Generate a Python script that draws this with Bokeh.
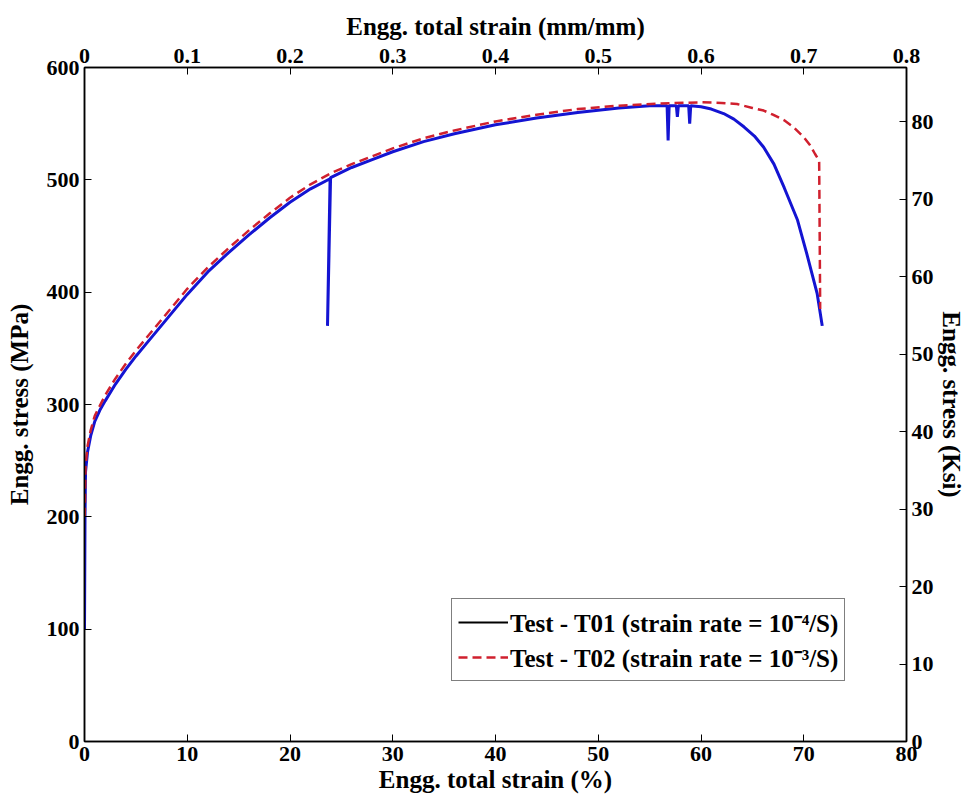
from bokeh.plotting import figure
from bokeh.models import (Range1d, LinearAxis, FixedTicker, Legend, LegendItem)
from bokeh.embed import file_html
from bokeh.resources import INLINE

# ---- data ----
# Test T01 (blue solid), engineering strain (%) vs stress (MPa)
t01_strain = [0.0, 0.05, 0.1, 0.3, 0.6, 1.0, 1.5, 2.0, 3.0, 4.0, 5.0, 6.0, 8.0, 10.0,
              12.0, 14.0, 16.0, 18.0, 20.0, 22.0, 23.9, 23.65, 23.95, 26.0, 28.0, 30.0,
              33.0, 36.0, 40.0, 44.0, 48.0, 52.0, 55.0, 56.7, 56.8, 56.9, 57.6, 57.7,
              57.8, 58.8, 58.9, 59.0, 60.0, 61.0, 62.2, 63.2, 64.2, 65.2, 66.1, 67.1,
              68.1, 69.4, 70.3, 71.3, 71.8]
t01_stress = [100, 200, 240, 258, 272, 285, 295, 303, 318, 331, 343, 354, 376, 398,
              418, 435, 451, 466, 480, 492, 501, 370, 502, 511, 518, 525,
              534, 541, 549, 555, 560, 564, 566, 566, 535, 566, 566, 556,
              566, 566, 550, 566, 565, 563, 559, 554, 547, 539, 529, 514,
              493, 464, 434, 399, 370]

# Test T02 (red dashed)
t02_strain = [0.02, 0.1, 0.3, 0.6, 1.0, 2.0, 3.0, 4.0, 5.0, 6.0, 8.0, 10.0, 12.0, 14.0,
              16.0, 18.0, 20.0, 22.0, 24.0, 26.0, 28.0, 30.0, 33.0, 36.0, 40.0, 44.0,
              48.0, 52.0, 56.0, 60.0, 62.0, 63.5, 65.0, 66.1, 67.0, 68.1, 69.0, 70.0,
              70.6, 71.1, 71.5, 71.6]
t02_stress = [200, 245, 263, 277, 290, 308, 323, 336, 348, 359, 381, 403, 422, 439,
              455, 470, 484, 496, 506, 514, 521, 528, 537, 544, 552, 558,
              563, 566, 568, 569, 568.5, 567.5, 564, 561.7, 558, 553, 547, 538,
              531, 523, 517, 385]

x_ticks = [0, 10, 20, 30, 40, 50, 60, 70, 80]
y_ticks = [0, 100, 200, 300, 400, 500, 600]
top_ticks = [0, 0.1, 0.2, 0.3, 0.4, 0.5, 0.6, 0.7, 0.8]
ksi_ticks = [0, 10, 20, 30, 40, 50, 60, 70, 80]
MPA_PER_KSI = 6.894757

legend_labels = ["Test - T01 (strain rate = 10\u207b\u2074/S)",
                 "Test - T02 (strain rate = 10\u207b\u00b3/S)"]
bottom_title = "Engg. total strain (%)"
left_title = "Engg. stress (MPa)"
top_title = "Engg. total strain (mm/mm)"
right_title = "Engg. stress (Ksi)"

FONT = "Liberation Serif"
TICK_SIZE = "22px"
LABEL_SIZE = "25px"
BLUE = "#1414d2"
RED = "#d0202e"

p = figure(width=967, height=801, output_backend="svg", toolbar_location=None,
           x_range=Range1d(0, 80), y_range=Range1d(0, 600),
           min_border_left=84, min_border_right=61, min_border_top=67,
           min_border_bottom=60)
p.extra_x_ranges = {"top": Range1d(0, 0.8)}
p.extra_y_ranges = {"ksi": Range1d(0, 600 / MPA_PER_KSI)}

p.xgrid.visible = False
p.ygrid.visible = False
p.outline_line_color = "black"
p.outline_line_width = 1.5
p.background_fill_color = "white"
p.border_fill_color = "white"

top_axis = LinearAxis(x_range_name="top")
right_axis = LinearAxis(y_range_name="ksi")
p.add_layout(top_axis, "above")
p.add_layout(right_axis, "right")
bottom_axis = p.below[0]
left_axis = p.left[0]

bottom_axis.ticker = FixedTicker(ticks=x_ticks)
left_axis.ticker = FixedTicker(ticks=y_ticks)
top_axis.ticker = FixedTicker(ticks=top_ticks)
right_axis.ticker = FixedTicker(ticks=ksi_ticks)

bottom_axis.axis_label = bottom_title
left_axis.axis_label = left_title
top_axis.axis_label = top_title
right_axis.axis_label = right_title

for ax in [bottom_axis, left_axis, top_axis, right_axis]:
    ax.major_tick_in = 7
    ax.major_tick_out = 0
    ax.minor_tick_in = 0
    ax.minor_tick_out = 0
    ax.axis_line_color = "black"
    ax.axis_line_width = 1.5
    ax.major_tick_line_color = "black"
    ax.major_tick_line_width = 1
    ax.major_label_text_font = FONT
    ax.major_label_text_font_style = "bold"
    ax.major_label_text_font_size = TICK_SIZE
    ax.major_label_text_color = "black"
    ax.axis_label_text_font = FONT
    ax.axis_label_text_font_style = "bold"
    ax.axis_label_text_font_size = LABEL_SIZE
    ax.axis_label_text_color = "black"
    ax.major_label_standoff = 5
    ax.axis_label_standoff = 2

left_axis.axis_label_standoff = 11
top_axis.axis_label_standoff = 6
right_axis.axis_label_standoff = 1

blue = p.line(t01_strain, t01_stress, line_color=BLUE, line_width=3)
red = p.line(t02_strain, t02_stress, line_color=RED, line_width=2.5,
             line_dash="9 5")

# legend swatches (the reference legend shows a black solid line for T01);
# placed outside the visible y range so only their legend glyphs show
sw1 = p.line(x=[1, 2], y=[-100, -100], line_color="black", line_width=2)
sw2 = p.line(x=[1, 2], y=[-100, -100], line_color=RED, line_width=2.5,
             line_dash="9 5")

legend = Legend(items=[LegendItem(label=legend_labels[0], renderers=[sw1]),
                       LegendItem(label=legend_labels[1], renderers=[sw2])],
                location=(367, 60))
legend.label_text_font = FONT
legend.label_text_font_style = "bold"
legend.label_text_font_size = "25px"
legend.label_text_color = "black"
legend.border_line_color = "black"
legend.border_line_width = 1
legend.glyph_width = 50
legend.label_standoff = 2
legend.padding = 6
legend.spacing = 1
legend.margin = 0
legend.background_fill_alpha = 1
p.add_layout(legend, "center")

open("out.html", "w").write(file_html(p, INLINE))
